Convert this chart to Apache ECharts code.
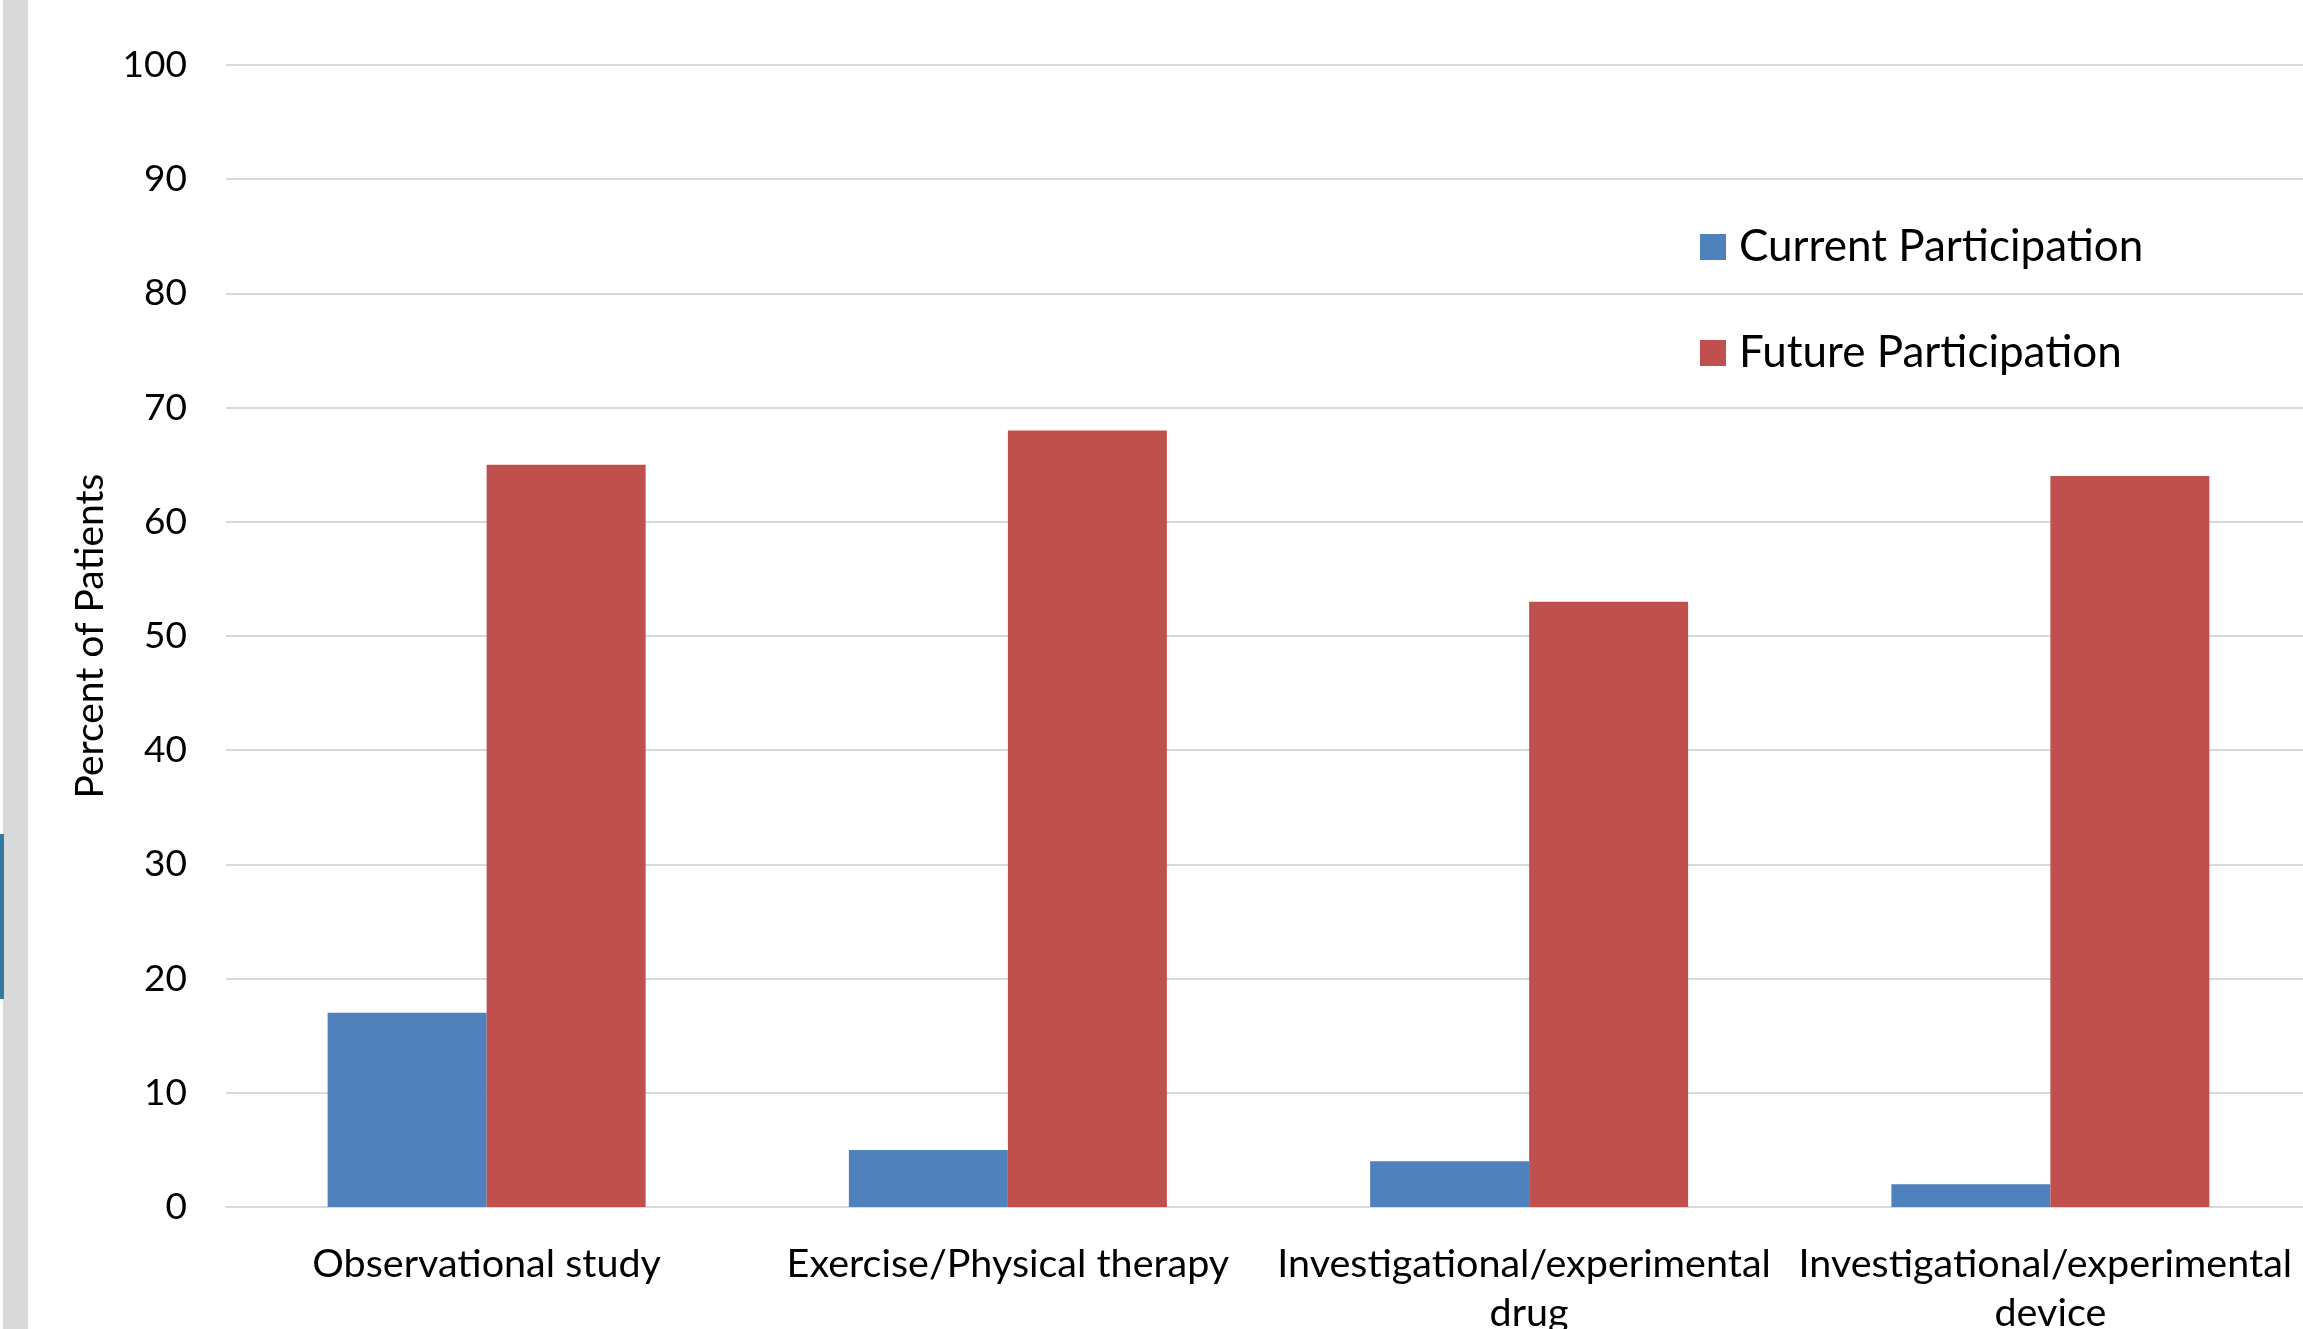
<!DOCTYPE html>
<html>
<head>
<meta charset="utf-8">
<title>Clinical research participation</title>
<script src="https://cdn.jsdelivr.net/npm/echarts@6/dist/echarts.min.js"></script>
<style>
  html, body { margin: 0; padding: 0; background: #ffffff; }
  #chart { width: 2303px; height: 1329px; }
</style>
</head>
<body>
<div id="chart"></div>
<script>
// Study types and share of patients (%) in each
const categories = [
  'Observational study',
  'Exercise/Physical therapy',
  'Investigational/experimental drug',
  'Investigational/experimental device'
];
const currentParticipation = [17, 5, 4, 2];
const futureParticipation = [65, 68, 53, 64];
const yTicks = { min: 0, max: 100, interval: 10 };

const FONT = 'Lato';
const chart = echarts.init(document.getElementById('chart'), null, { renderer: 'canvas' });

chart.setOption({
  backgroundColor: '#ffffff',
  animation: false,
  textStyle: { fontFamily: FONT, color: '#000000' },
  graphic: [
    // page edge strip and its accent marker
    { type: 'rect', left: 3, top: 0, shape: { width: 25, height: 1329 }, style: { fill: '#d9d9d9' }, z: -1 },
    { type: 'rect', left: 0, top: 834, shape: { width: 4, height: 165 }, style: { fill: '#337aa0' }, z: 0 }
  ],
  grid: {
    left: 226,
    right: -8,
    top: 65,
    bottom: 122,
    containLabel: false,
    outerBoundsMode: 'none'
  },
  legend: {
    orient: 'vertical',
    left: 1695,
    top: 217,
    icon: 'rect',
    itemWidth: 26,
    itemHeight: 26,
    itemGap: 56,
    textStyle: { fontFamily: FONT, fontSize: 44, color: '#000000', lineHeight: 50, padding: [0, 0, 0, 8] },
    data: ['Current Participation', 'Future Participation']
  },
  xAxis: {
    type: 'category',
    data: categories,
    axisLine: { show: true, lineStyle: { color: '#d9d9d9', width: 2 } },
    axisTick: { show: false },
    axisLabel: {
      interval: 0,
      margin: 33,
      fontFamily: FONT,
      fontSize: 39.5,
      lineHeight: 49,
      color: '#000000',
      width: 518,
      overflow: 'break'
    }
  },
  yAxis: {
    type: 'value',
    min: yTicks.min,
    max: yTicks.max,
    interval: yTicks.interval,
    name: 'Percent of Patients',
    nameLocation: 'middle',
    nameGap: 116,
    nameTextStyle: { fontFamily: FONT, fontSize: 39, color: '#000000' },
    axisLine: { show: false },
    axisTick: { show: false },
    axisLabel: { margin: 39, fontFamily: FONT, fontSize: 37, color: '#000000' },
    splitLine: { show: true, lineStyle: { color: '#d9d9d9', width: 2 } }
  },
  series: [
    {
      name: 'Current Participation',
      type: 'bar',
      data: currentParticipation,
      barWidth: 159,
      barGap: '0%',
      itemStyle: { color: '#4f81bd' }
    },
    {
      name: 'Future Participation',
      type: 'bar',
      data: futureParticipation,
      barWidth: 159,
      barGap: '0%',
      itemStyle: { color: '#c0504d' }
    }
  ]
});
</script>
</body>
</html>
